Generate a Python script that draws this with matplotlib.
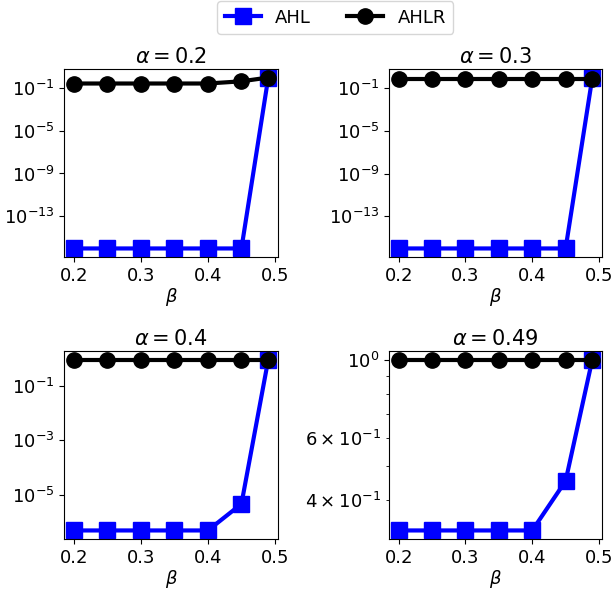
import numpy as np
import matplotlib
matplotlib.use("Agg")
import matplotlib.pyplot as plt

# beta values on the x axis
beta = [0.2, 0.25, 0.3, 0.35, 0.4, 0.45, 0.49]
alphas = [0.2, 0.3, 0.4, 0.49]

# values (log scale)
ahl_02 = [1e-16, 1e-16, 1e-16, 1e-16, 1e-16, 1e-16, 0.9]
ahlr_02 = [0.25, 0.25, 0.25, 0.25, 0.25, 0.4, 0.9]
ahl_03 = [1e-16, 1e-16, 1e-16, 1e-16, 1e-16, 1e-16, 0.95]
ahlr_03 = [0.74, 0.74, 0.74, 0.74, 0.74, 0.74, 0.74]
ahl_04 = [4.7e-7, 4.7e-7, 4.7e-7, 4.7e-7, 4.7e-7, 4.5e-6, 0.98]
ahlr_04 = [0.98, 0.98, 0.98, 0.98, 0.98, 0.98, 0.98]
ahl_049 = [0.329, 0.329, 0.329, 0.329, 0.329, 0.454, 1.0]
ahlr_049 = [1.0, 1.0, 1.0, 1.0, 1.0, 1.0, 1.0]

ahl = [ahl_02, ahl_03, ahl_04, ahl_049]
ahlr = [ahlr_02, ahlr_03, ahlr_04, ahlr_049]

plt.rcParams['font.size'] = 13

fig = plt.figure(figsize=(6.13, 5.93), dpi=100)
W, H = 613, 593
boxes = [(64, 69, 214, 188), (389, 69, 213, 188),
         (64, 351, 214, 188), (389, 351, 213, 188)]

for i, (x0, y0, w, h) in enumerate(boxes):
    ax = fig.add_axes([x0 / W, 1 - (y0 + h) / H, w / W, h / H])
    ax.plot(beta, ahl[i], color='blue', marker='s', lw=3, ms=11, label='AHL')
    ax.plot(beta, ahlr[i], color='black', marker='o', lw=3, ms=11, label='AHLR')
    ax.set_yscale('log')
    ax.set_xticks([0.2, 0.3, 0.4, 0.5])
    ax.set_xlabel(r'$\beta$', labelpad=1)
    ax.set_title(r'$\alpha = %s$' % alphas[i], fontsize=15, pad=4)
    if i == 0:
        handles, labels = ax.get_legend_handles_labels()

fig.legend(handles, labels, loc='upper center', bbox_to_anchor=(0.547, 1.013),
           ncol=2, fontsize=13)

fig.savefig('out.png', dpi=100)
